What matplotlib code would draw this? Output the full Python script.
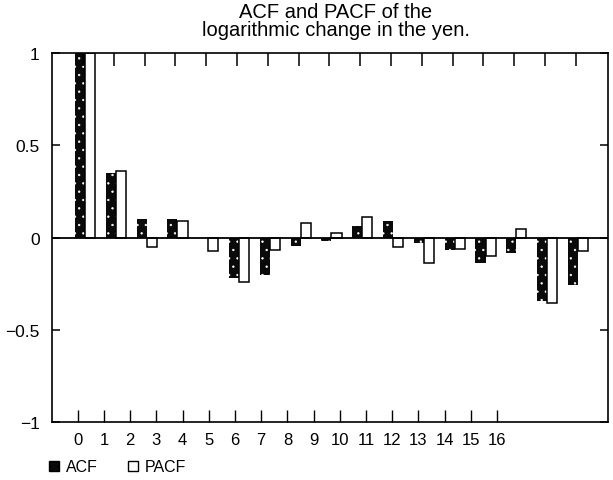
import numpy as np
import matplotlib
matplotlib.use("Agg")
import matplotlib.pyplot as plt
from matplotlib.patches import Patch

plt.rcParams['font.family'] = ['Liberation Sans', 'DejaVu Sans']
plt.rcParams['hatch.linewidth'] = 0.45

# Autocorrelations of the log change in the yen, lags 0..16
lags = np.arange(17)
acf = [1.0, 0.35, 0.10, 0.10, 0.0, -0.22, -0.20, -0.045, -0.02, 0.065,
       0.09, -0.03, -0.065, -0.14, -0.085, -0.345, -0.255]
pacf = [1.0, 0.36, -0.05, 0.09, -0.075, -0.24, -0.065, 0.08, 0.025, 0.11,
        -0.05, -0.135, -0.06, -0.10, 0.045, -0.355, -0.07]
lag_labels = [str(k) for k in lags]
ytick_vals = [-1, -0.5, 0, 0.5, 1]
ytick_labels = ['\u22121', '\u22120.5', '0', '0.5', '1']

fig = plt.figure(figsize=(6.13, 4.81), dpi=100)
ax = fig.add_axes([0.085, 0.12, 0.907, 0.768])

w = 0.33
ax.bar(lags - 0.26, acf, width=w, align='edge', color='#0a0a0a',
       edgecolor='white', hatch='..', linewidth=0)
ax.bar(lags - 0.26 + w, pacf, width=w, align='edge', color='white',
       edgecolor='black', linewidth=1.1)
ax.axhline(0, color='black', lw=1.3)

ax.set_xlim(-1.0, 17.05)
ax.set_ylim(-1.0, 1.0)
ax.set_yticks(ytick_vals)
ax.set_yticklabels(ytick_labels)
ax.yaxis.set_ticks_position('both')
ax.tick_params(axis='y', direction='in', length=6, width=1.1, pad=9,
               labelsize=12.5)
for s in ax.spines.values():
    s.set_linewidth(1.2)

# bottom lag labels sit on their own scale in the original
axb = ax.twiny()
axb.set_xlim(-0.98, 20.24)
axb.set_xticks(lags)
axb.set_xticklabels(lag_labels)
axb.xaxis.set_ticks_position('bottom')
axb.xaxis.set_label_position('bottom')
axb.tick_params(axis='x', direction='in', length=9, width=1.0, pad=7,
                labelsize=12, labelbottom=True, labeltop=False)
for s in axb.spines.values():
    s.set_visible(False)

# top ticks follow the bars (set after twiny, which resets them)
ax.set_xticks(lags)
ax.xaxis.set_ticks_position('top')
ax.tick_params(axis='x', direction='in', length=9.5, width=1.1,
               labeltop=False, labelbottom=False)

ax.set_title('ACF and PACF of the\nlogarithmic change in the yen.',
             fontsize=14.5, linespacing=0.92, pad=13, x=0.51)

handles = [Patch(facecolor='#0a0a0a', edgecolor='black', hatch='..'),
           Patch(facecolor='white', edgecolor='black', linewidth=1.0)]
fig.legend(handles, ['ACF', 'PACF'], loc='lower left',
           bbox_to_anchor=(0.08, 0.012), ncol=2, frameon=False,
           borderpad=0, borderaxespad=0,
           fontsize=11.5, handlelength=0.6, handleheight=0.6,
           handletextpad=0.45, columnspacing=1.9)

fig.savefig('out.png', dpi=100)
